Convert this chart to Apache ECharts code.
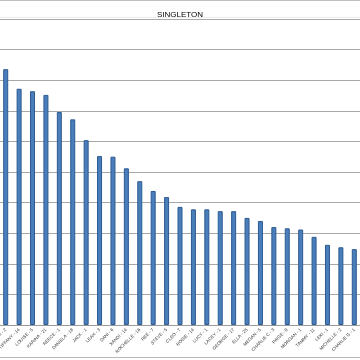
<!DOCTYPE html>
<html>
<head>
<meta charset="utf-8">
<script src="https://cdn.jsdelivr.net/npm/echarts@6/dist/echarts.min.js"></script>
<style>html,body{margin:0;padding:0;background:#fff}#c{width:360px;height:360px}</style>
</head>
<body>
<div id="c"></div>
<script>
const titleText = 'SINGLETON';
const categories = ['NIKKI - 2','TIFFANY - 14','LOUISE - 5','KARINA - 21','REECE - 1','DANIELA - 18','JACK - 1','LEAH - 3','DANI - 6','XANDI - 14','ROCHELLE - 16','REE - 7','STEVE - 5','CLEO - 7','ROSIE - 14','LUCY - 1','LACEY - 1','GEORGE - 17','ELLA - 25','MEGAN - 5','CHARLIE C - 3','PAIGE - 9','MORGAN - 1','TAMMY - 11','LEXI - 1','MICHELLE - 2','CHARLIE G - 1'];
const values = [41.8,38.6,38.2,37.6,34.8,33.6,30.2,27.6,27.5,25.6,23.5,21.9,20.9,19.3,18.9,18.9,18.6,18.6,17.5,17.0,16.0,15.8,15.6,14.4,13.1,12.7,12.4];
const yMin = 0, yMax = 50, yStep = 5;

const chart = echarts.init(document.getElementById('c'), null, {renderer:'canvas'});
chart.setOption({
  animation:false,
  backgroundColor:'#fff',
  title:{text:titleText,left:'center',top:6,textStyle:{fontSize:8,fontWeight:'normal',color:'#000',fontFamily:'Liberation Sans'}},
  grid:{left:-1,right:-1,top:19,bottom:35,containLabel:false,outerBoundsMode:'none'},
  xAxis:{type:'category',data:categories,
    axisLine:{lineStyle:{color:'#9a9a9a',width:1}},
    axisTick:{show:false},
    axisLabel:{interval:0,rotate:45,fontSize:4.5,color:'#333',margin:4,fontFamily:'Liberation Sans'}},
  yAxis:{type:'value',min:yMin,max:yMax,interval:yStep,
    axisLine:{show:false},axisTick:{show:false},axisLabel:{show:false},
    splitLine:{lineStyle:{color:'#a8a8a8',width:1}}},
  series:[{type:'bar',data:values,barWidth:5,
    itemStyle:{color:'#4a7ebb',borderColor:'#2c5a90',borderWidth:1}}],
  graphic:[
    {type:'line',shape:{x1:0,y1:0.5,x2:360,y2:0.5},style:{stroke:'#c0c0c0',lineWidth:1}},
    {type:'line',shape:{x1:0,y1:17.5,x2:360,y2:17.5},style:{stroke:'#ececec',lineWidth:1}},
    {type:'line',shape:{x1:0,y1:357.5,x2:360,y2:357.5},style:{stroke:'#b8b8b8',lineWidth:1}}
  ]
});
</script>
</body>
</html>
